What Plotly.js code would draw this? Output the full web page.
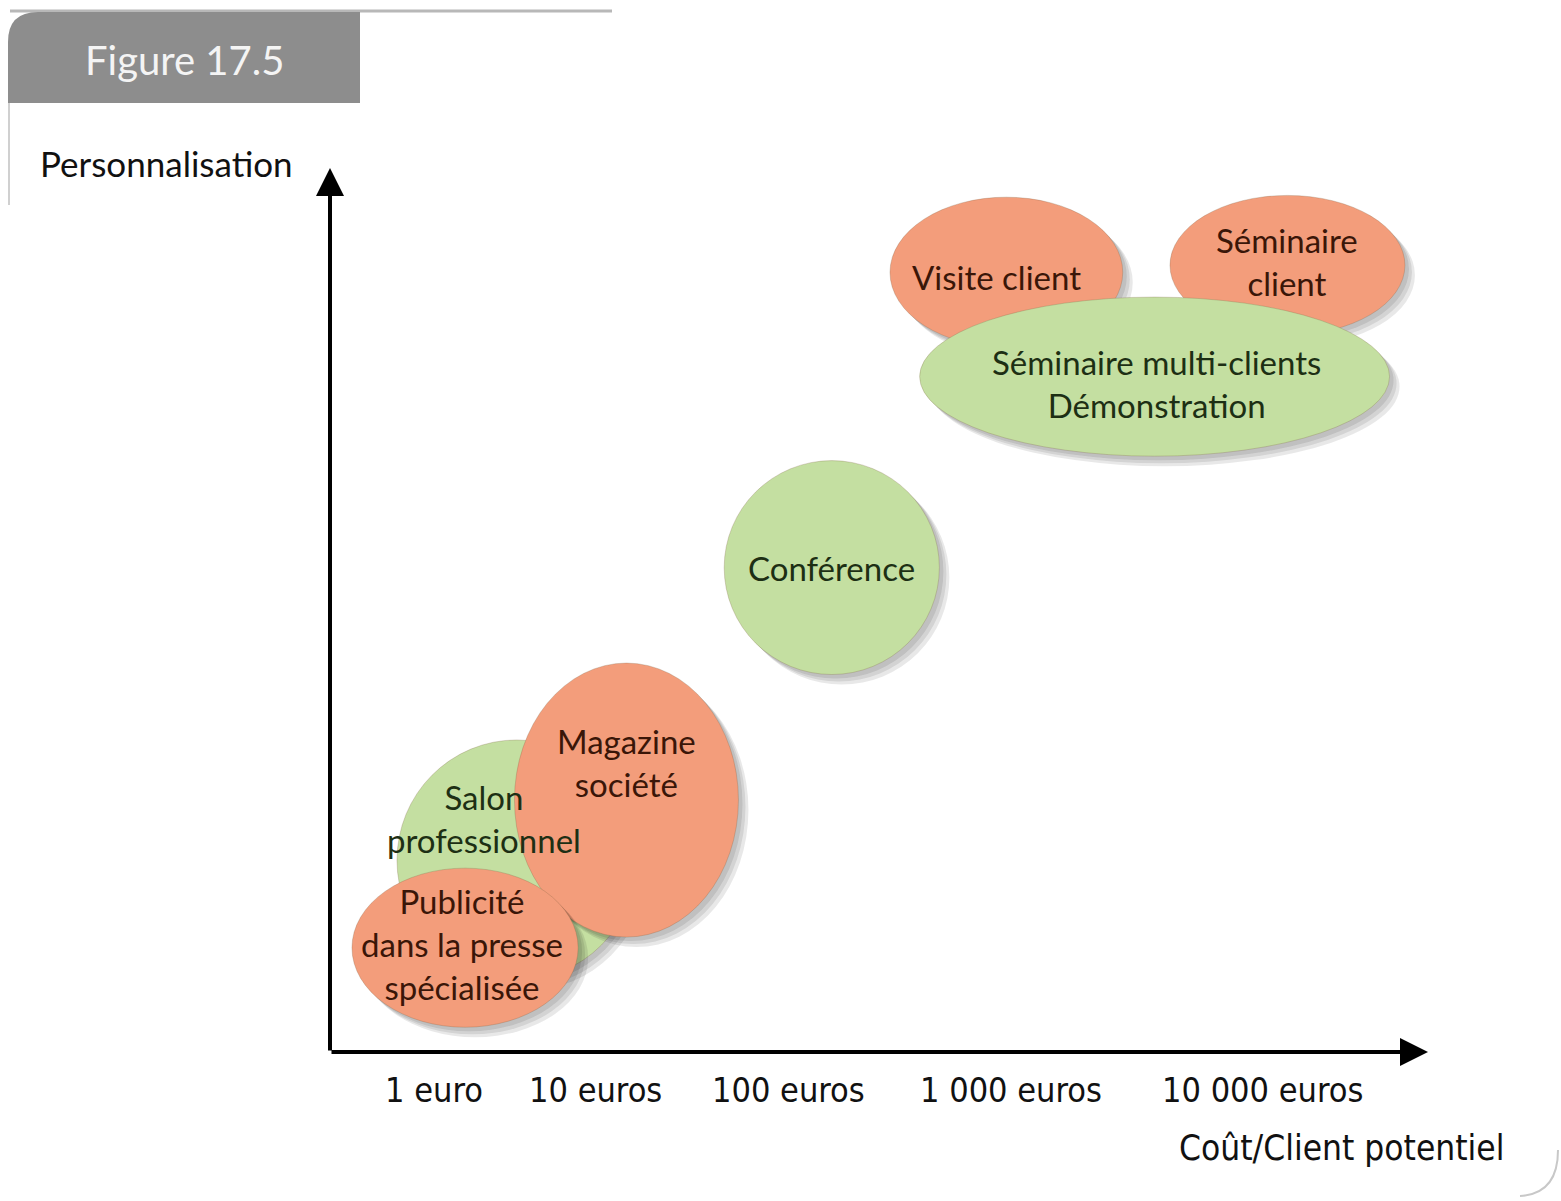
<!DOCTYPE html>
<html>
<head>
<meta charset="utf-8">
<script src="https://cdn.plot.ly/plotly-3.0.1.min.js"></script>
<style>
  html, body { margin: 0; padding: 0; background: #fff; }
  #chart { width: 1561px; height: 1201px; }
</style>
</head>
<body>
<div id="chart"></div>
<script>
// Figure 17.5 - media positioned by cost per prospect vs. personalisation
// axis units: 0..100 from the origin to each arrow tip

// ellipses, in drawing order (later ones lie on top)
var mediaLabels = ['Salon<br>professionnel', 'Magazine<br>société', 'Publicité<br>dans la presse<br>spécialisée',
                   'Conférence', 'Visite client', 'Séminaire<br>client', 'Séminaire multi-clients<br>Démonstration'];
var mediaKind = ['green', 'orange', 'orange', 'green', 'orange', 'orange', 'green'];
var centerX = [17.0, 27.0, 12.3, 45.7, 61.6, 87.2, 75.1];
var centerY = [21.7, 28.5, 11.8, 54.8, 88.2, 89.0, 76.4];
var radiusX = [10.9, 10.2, 10.3, 9.8, 10.6, 10.7, 21.4];
var radiusY = [13.6, 15.5, 9.0, 12.1, 8.5, 7.9, 9.0];
var labelX = [14.0, 27.0, 12.0, 45.7, 60.7, 87.2, 75.3];
var labelY = [26.4, 32.8, 12.2, 54.8, 87.7, 89.4, 75.6];

// cost axis labels
var costLabels = ['1 euro', '10 euros', '100 euros', '1 000 euros', '10 000 euros'];
var costPos = [9.5, 24.2, 41.8, 62.0, 84.9];

var W = 1561, H = 1201;
var X0 = 330, Y0 = 1052, XT = 1428, YT = 168;   // origin and arrow tips in px
var sx = (XT - X0) / 100, sy = (Y0 - YT) / 100;

function PX(px) { return px / W; }
function PY(py) { return 1 - py / H; }

var fill = { orange: '#F39D7B', green: '#C4DFA1' };
var ink = { orange: '#3a1608', green: '#1d2f14' };
var bodyFont = 'Lato, "Open Sans", sans-serif';
var narrowFont = '"DejaVu Sans Condensed", "Liberation Sans Narrow", sans-serif';

var shapes = [];
var annotations = [];

// frame decoration
shapes.push({
    type: 'line', xref: 'paper', yref: 'paper',
    x0: PX(10), y0: PY(11), x1: PX(612), y1: PY(11),
    line: { color: '#b8b8b8', width: 3 }
});
shapes.push({
    type: 'line', xref: 'paper', yref: 'paper',
    x0: PX(9), y0: PY(103), x1: PX(9), y1: PY(205),
    line: { color: '#d0d0d0', width: 2 }
});
shapes.push({
    type: 'path', xref: 'paper', yref: 'paper',
    path: 'M ' + PX(8) + ',' + PY(103) + ' L ' + PX(8) + ',' + PY(42) +
          ' Q ' + PX(8) + ',' + PY(12) + ' ' + PX(38) + ',' + PY(12) +
          ' L ' + PX(360) + ',' + PY(12) + ' L ' + PX(360) + ',' + PY(103) + ' Z',
    fillcolor: '#8d8d8d', line: { width: 0 }
});
shapes.push({
    type: 'path', xref: 'paper', yref: 'paper',
    path: 'M ' + PX(1558) + ',' + PY(1150) + ' Q ' + PX(1558) + ',' + PY(1194) + ' ' + PX(1520) + ',' + PY(1196),
    line: { color: '#c8c8c8', width: 2 }
});

// ellipses with a soft shadow to the lower right
for (var i = 0; i < mediaLabels.length; i++) {
    var offs = [4, 7, 10];
    for (var k = 0; k < offs.length; k++) {
        var dx = offs[k] / sx, dy = offs[k] / sy;
        shapes.push({
            type: 'circle', xref: 'x', yref: 'y',
            x0: centerX[i] - radiusX[i] + dx, x1: centerX[i] + radiusX[i] + dx,
            y0: centerY[i] - radiusY[i] - dy, y1: centerY[i] + radiusY[i] - dy,
            fillcolor: 'rgba(0,0,0,0.09)', line: { width: 0 }
        });
    }
    shapes.push({
        type: 'circle', xref: 'x', yref: 'y',
        x0: centerX[i] - radiusX[i], x1: centerX[i] + radiusX[i],
        y0: centerY[i] - radiusY[i], y1: centerY[i] + radiusY[i],
        fillcolor: fill[mediaKind[i]], line: { color: 'rgba(120,90,60,0.25)', width: 1 }
    });
    annotations.push({
        x: labelX[i], y: labelY[i], xref: 'x', yref: 'y',
        xanchor: 'center', yanchor: 'middle',
        text: mediaLabels[i], showarrow: false,
        font: { family: bodyFont, size: 33, color: ink[mediaKind[i]] }
    });
}

// axes as arrows
annotations.push({
    x: 100, y: 0, ax: 0, ay: 0, xref: 'x', yref: 'y', axref: 'x', ayref: 'y',
    text: '', showarrow: true, arrowhead: 2, arrowsize: 1.4, arrowwidth: 4, arrowcolor: '#000'
});
annotations.push({
    x: 0, y: 100, ax: 0, ay: 0, xref: 'x', yref: 'y', axref: 'x', ayref: 'y',
    text: '', showarrow: true, arrowhead: 2, arrowsize: 1.4, arrowwidth: 4, arrowcolor: '#000'
});

// cost labels under the x axis
for (var j = 0; j < costLabels.length; j++) {
    annotations.push({
        x: costPos[j], y: -4.3, xref: 'x', yref: 'y',
        xanchor: 'center', yanchor: 'middle',
        text: costLabels[j], showarrow: false,
        font: { family: narrowFont, size: 34, color: '#111' }
    });
}

// titles
annotations.push({
    x: PX(184), y: PY(60), xref: 'paper', yref: 'paper',
    xanchor: 'center', yanchor: 'middle',
    text: 'Figure 17.5', showarrow: false,
    font: { family: bodyFont, size: 40, color: '#f4f4f4' }
});
annotations.push({
    x: PX(38), y: PY(163), xref: 'paper', yref: 'paper',
    xanchor: 'left', yanchor: 'middle',
    text: 'Personnalisation', showarrow: false,
    font: { family: bodyFont, size: 35, color: '#111' }
});
annotations.push({
    x: PX(1507), y: PY(1148), xref: 'paper', yref: 'paper',
    xanchor: 'right', yanchor: 'middle',
    text: 'Coût/Client potentiel', showarrow: false,
    font: { family: narrowFont, size: 35, color: '#111' }
});

var layout = {
    width: W, height: H,
    margin: { l: 0, r: 0, t: 0, b: 0 },
    paper_bgcolor: '#fff', plot_bgcolor: '#fff',
    showlegend: false,
    xaxis: { range: [-X0 / sx, (W - X0) / sx], visible: false, fixedrange: true },
    yaxis: { range: [-(H - Y0) / sy, Y0 / sy], visible: false, fixedrange: true },
    shapes: shapes,
    annotations: annotations
};

Plotly.newPlot('chart', [], layout, { displayModeBar: false, staticPlot: true });
</script>
</body>
</html>
